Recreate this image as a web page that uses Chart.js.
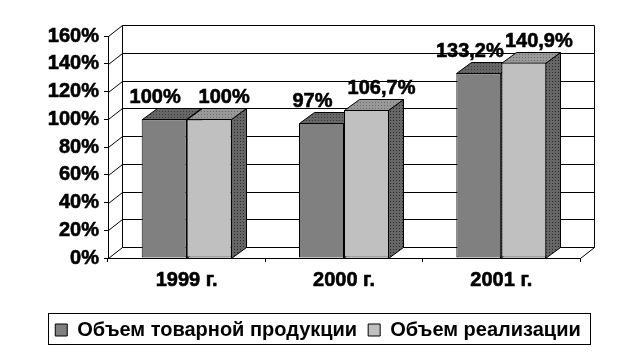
<!DOCTYPE html>
<html><head><meta charset="utf-8">
<script src="https://cdn.jsdelivr.net/npm/chart.js@4.4.0/dist/chart.umd.min.js"></script>
<style>html,body{margin:0;padding:0;background:#fff;overflow:hidden}</style>
</head><body>
<canvas id="c" width="637" height="357" style="width:637px;height:357px;display:block"></canvas>
<script>
const categories = ['1999 г.', '2000 г.', '2001 г.'];
const seriesNames = ['Объем товарной продукции', 'Объем реализации'];
const productionValues = [100, 97, 133.2];
const salesValues = [100, 106.7, 140.9];
const productionLabels = ['100%', '97%', '133,2%'];
const salesLabels = ['100%', '106,7%', '140,9%'];
const yTickValues = [0, 20, 40, 60, 80, 100, 120, 140, 160];

const FONT = '"Liberation Sans", Arial, sans-serif';
const WALL_DX = 14, WALL_DY = 11;   // back wall depth offset
const BAR_DX = 15, BAR_DY = 11;     // bar depth offset
const LABEL_SHIFT = [-9, 15];
const LEGEND_SHIFT = 28;
const TEXT_STROKE = 0.6;

function dotted(base, dot) {
  const c = document.createElement('canvas');
  c.width = 3; c.height = 3;
  const g = c.getContext('2d');
  g.fillStyle = base; g.fillRect(0, 0, 3, 3);
  g.fillStyle = dot; g.fillRect(0, 0, 1, 1);
  return c;
}

const ctx = document.getElementById('c').getContext('2d');
const patterns = {
  darkTop: ctx.createPattern(dotted('#666666', '#3a3a3a'), 'repeat'),
  lightTop: ctx.createPattern(dotted('#999999', '#6a6a6a'), 'repeat'),
  side: ctx.createPattern(dotted('#666666', '#2a2a2a'), 'repeat')
};
const topFills = [patterns.darkTop, patterns.lightTop];

const wallPlugin = {
  id: 'wall3d',
  beforeDraw(chart) {
    const lg = chart.legend;
    if (lg && !lg._shifted) {
      lg.left += LEGEND_SHIFT; lg.right += LEGEND_SHIFT;
      (lg.legendHitBoxes || []).forEach(h => { h.left += LEGEND_SHIFT; });
      lg._shifted = true;
    }
  },
  beforeDatasetsDraw(chart) {
    const c = chart.ctx, a = chart.chartArea, ys = chart.scales.y;
    c.save();
    c.strokeStyle = '#000'; c.lineWidth = 1;
    const L = Math.round(a.left) + 0.5, R = Math.round(a.right) + 0.5;
    const B = Math.round(a.bottom) + 0.5;
    c.beginPath();
    yTickValues.forEach(v => {
      const yf = Math.round(ys.getPixelForValue(v)) + 0.5;
      c.moveTo(L, yf); c.lineTo(L + WALL_DX, yf - WALL_DY); c.lineTo(R + WALL_DX, yf - WALL_DY);
    });
    const T = Math.round(ys.getPixelForValue(yTickValues[yTickValues.length - 1])) + 0.5;
    c.moveTo(L + WALL_DX, T - WALL_DY); c.lineTo(L + WALL_DX, B - WALL_DY);
    c.moveTo(R + WALL_DX, T - WALL_DY); c.lineTo(R + WALL_DX, B - WALL_DY);
    c.moveTo(R, B); c.lineTo(R + WALL_DX, B - WALL_DY);
    c.stroke();
    // bar extrusions
    chart.data.datasets.forEach((ds, di) => {
      chart.getDatasetMeta(di).data.forEach(el => {
        const l = Math.round(el.x - el.width / 2) + 0.5, r = Math.round(el.x + el.width / 2) - 0.5;
        const t = Math.round(el.y) + 0.5, b = Math.round(el.base) + 0.5;
        c.beginPath();
        c.moveTo(r, t); c.lineTo(r + BAR_DX, t - BAR_DY); c.lineTo(r + BAR_DX, b - BAR_DY); c.lineTo(r, b); c.closePath();
        c.fillStyle = patterns.side; c.fill(); c.stroke();
        c.beginPath();
        c.moveTo(l, t); c.lineTo(r, t); c.lineTo(r + BAR_DX, t - BAR_DY); c.lineTo(l + BAR_DX, t - BAR_DY); c.closePath();
        c.fillStyle = topFills[di]; c.fill(); c.stroke();
      });
    });
    c.restore();
  },
  afterDatasetsDraw(chart) {
    const c = chart.ctx;
    c.save();
    c.fillStyle = '#000'; c.strokeStyle = '#000'; c.lineWidth = TEXT_STROKE;
    c.font = 'bold 20px ' + FONT;
    c.textAlign = 'center'; c.textBaseline = 'alphabetic';
    const labels = [productionLabels, salesLabels];
    chart.data.datasets.forEach((ds, di) => {
      chart.getDatasetMeta(di).data.forEach((el, i) => {
        const x = el.x + LABEL_SHIFT[di], y = el.y - BAR_DY - 5;
        c.strokeText(labels[di][i], x, y);
        c.fillText(labels[di][i], x, y);
      });
    });
    c.restore();
  },
  afterDraw(chart) {
    const lg = chart.legend, hb = lg.legendHitBoxes;
    if (!hb || !hb.length) return;
    const c = chart.ctx;
    const first = hb[0], last = hb[hb.length - 1];
    const x0 = Math.round(first.left - 7) + 0.5, x1 = Math.round(last.left + last.width + 9) + 0.5;
    const y0 = Math.round(first.top - 7) + 0.5, y1 = Math.round(first.top + first.height + 4) + 0.5;
    c.save(); c.strokeStyle = '#000'; c.lineWidth = 1;
    c.strokeRect(x0, y0, x1 - x0, y1 - y0);
    c.restore();
  }
};

new Chart(ctx, {
  type: 'bar',
  data: {
    labels: categories,
    datasets: [
      { label: seriesNames[0], data: productionValues, backgroundColor: '#808080', borderColor: '#000', borderWidth: 1, borderSkipped: false },
      { label: seriesNames[1], data: salesValues, backgroundColor: '#c0c0c0', borderColor: '#000', borderWidth: 1, borderSkipped: false }
    ]
  },
  options: {
    responsive: false, animation: false,
    devicePixelRatio: 1,
    layout: { padding: { left: 0, right: 57, top: 36, bottom: 7 } },
    datasets: { bar: { categoryPercentage: 0.572, barPercentage: 1 } },
    plugins: {
      legend: {
        position: 'bottom',
        labels: { boxWidth: 12, boxHeight: 12, padding: 11, color: '#000', font: { family: FONT, size: 20, weight: 'bold' } }
      },
      tooltip: { enabled: false }
    },
    scales: {
      x: {
        grid: { offset: true, drawOnChartArea: false, drawTicks: true, tickLength: 4, color: '#000' },
        border: { display: true, color: '#000', width: 1 },
        ticks: { color: '#000', padding: 6, textStrokeColor: '#000', textStrokeWidth: TEXT_STROKE, font: { family: FONT, size: 20, weight: 'bold' } },
        afterFit(s) { s.height = 51; }
      },
      y: {
        min: 0, max: 160,
        afterBuildTicks(s) { s.ticks = yTickValues.map(v => ({ value: v })); },
        grid: { drawOnChartArea: false, drawTicks: true, tickLength: 4, color: '#000' },
        border: { display: true, color: '#000', width: 1 },
        ticks: { color: '#000', padding: 5, autoSkip: false, textStrokeColor: '#000', textStrokeWidth: TEXT_STROKE, font: { family: FONT, size: 20, weight: 'bold' }, callback: v => v + '%' },
        afterFit(s) { s.width = 108; }
      }
    }
  },
  plugins: [wallPlugin]
});
</script>
</body></html>
